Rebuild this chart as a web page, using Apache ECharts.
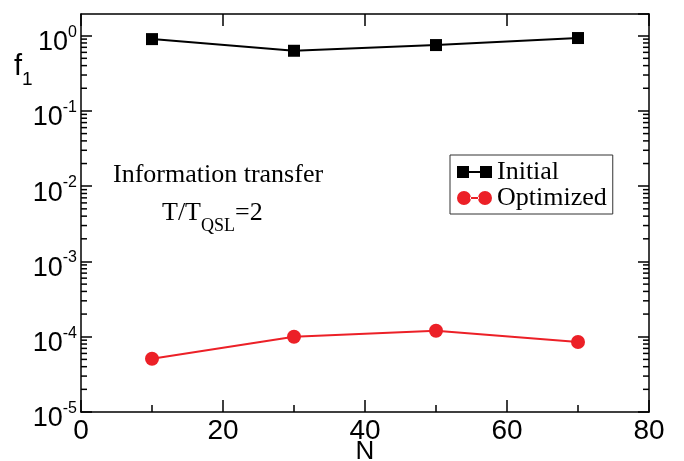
<!DOCTYPE html>
<html><head><meta charset="utf-8">
<script src="https://cdn.jsdelivr.net/npm/echarts@6/dist/echarts.min.js"></script>
<style>html,body{margin:0;padding:0;background:#fff}#c{width:684px;height:461px}</style>
</head><body><div id="c"></div>
<script>
// ---- data ----
const N = [10, 30, 50, 70];
const initial = [0.90, 0.63, 0.75, 0.93];
const optimized = [5.1e-5, 1.0e-4, 1.2e-4, 8.5e-5];
const xTicks = [0, 20, 40, 60, 80];
const yDecades = [1e-5, 1e-4, 1e-3, 1e-2, 1e-1, 1];
const minorMultipliers = [2, 3, 4, 5, 6, 7, 8, 9];
const seriesNames = ['Initial', 'Optimized'];

const X_MIN = 0, X_MAX = 80, Y_MIN = 1e-5, Y_MAX = 1.94;
const RED = '#ec2027';
const SANS = 'Liberation Sans, Arial, sans-serif';
const SERIF = 'Liberation Serif, Times New Roman, serif';

const minorVals = [];
yDecades.forEach(d => minorMultipliers.forEach(m => { const v = d * m; if (v < Y_MAX) minorVals.push([X_MIN, v]); }));

const axisLineStyle = { color: '#000', width: 1.5 };
const sqIcon = 'path://M0,0H12V12H0Z M12,5H23V7H12Z M23,0H35V12H23Z';
const ciIcon = 'path://M0,7A7,7,0,1,0,14,7A7,7,0,1,0,0,7Z M13,6H22V8H13Z M21,7A7,7,0,1,0,35,7A7,7,0,1,0,21,7Z';

const chart = echarts.init(document.getElementById('c'), null, { renderer: 'canvas' });
chart.setOption({
  animation: false,
  backgroundColor: '#fff',
  grid: { left: 81, right: 35, top: 14, bottom: 49, containLabel: false, outerBoundsMode: 'none' },
  xAxis: [{
    type: 'value', min: X_MIN, max: X_MAX, interval: 20, position: 'bottom',
    axisLine: { show: true, onZero: false, lineStyle: axisLineStyle },
    axisTick: { show: true, inside: true, length: 12, lineStyle: axisLineStyle },
    minorTick: { show: true, splitNumber: 2, length: 7, lineStyle: axisLineStyle },
    splitLine: { show: false },
    axisLabel: { fontSize: 28, color: '#000', fontFamily: SANS, margin: 5,
      formatter: v => xTicks.includes(v) ? String(v) : '' },
    name: 'N', nameLocation: 'middle', nameGap: 27, nameMoveOverlap: false,
    nameTextStyle: { fontSize: 26, color: '#000', fontFamily: SANS }
  }, {
    type: 'value', min: X_MIN, max: X_MAX, interval: 20, position: 'top',
    axisLine: { show: true, onZero: false, lineStyle: axisLineStyle },
    axisTick: { show: true, inside: true, length: 12, lineStyle: axisLineStyle },
    axisLabel: { show: false }, splitLine: { show: false }
  }],
  yAxis: [{
    type: 'log', logBase: 10, min: Y_MIN, max: Y_MAX, position: 'left',
    axisLine: { show: true, onZero: false, lineStyle: axisLineStyle },
    axisTick: { show: true, inside: true, length: 11, lineStyle: axisLineStyle },
    splitLine: { show: false },
    axisLabel: {
      showMaxLabel: false, margin: 4, padding: [14, 0, 0, 0],
      formatter: v => '{b|10}{s|' + Math.round(Math.log10(v)) + '}',
      rich: {
        b: { fontSize: 27, lineHeight: 27, fontFamily: SANS, color: '#000', verticalAlign: 'bottom' },
        s: { fontSize: 16, lineHeight: 16, fontFamily: SANS, color: '#000', verticalAlign: 'bottom', padding: [0, 0, 16, 0] }
      }
    }
  }, {
    type: 'log', logBase: 10, min: Y_MIN, max: Y_MAX, position: 'right',
    axisLine: { show: true, onZero: false, lineStyle: axisLineStyle },
    axisTick: { show: true, inside: true, length: 11, lineStyle: axisLineStyle },
    axisLabel: { show: false }, splitLine: { show: false }
  }],
  legend: {
    orient: 'vertical', left: 450, top: 155,
    data: [{ name: seriesNames[0], icon: sqIcon }, { name: seriesNames[1], icon: ciIcon }],
    itemWidth: 35, itemHeight: 14, itemGap: 0,
    padding: [4, 6, 3, 7], borderColor: '#333', borderWidth: 1,
    textStyle: { fontFamily: SERIF, fontSize: 26, color: '#000' },
    selectedMode: false
  },
  graphic: [
    { type: 'text', x: 113, y: 175, silent: true,
      style: { text: 'Information transfer', font: '26px ' + SERIF, fill: '#000', align: 'left', verticalAlign: 'middle' } },
    { type: 'text', x: 162, y: 200, silent: true,
      style: { text: '{a|T/T}{b|QSL}{a|=2}', align: 'left', verticalAlign: 'top',
        rich: {
          a: { fontSize: 26, lineHeight: 26, fontFamily: SERIF, fill: '#000', verticalAlign: 'top' },
          b: { fontSize: 18, lineHeight: 18, fontFamily: SERIF, fill: '#000', verticalAlign: 'top', padding: [17, 0, 0, 0] }
        } } },
    { type: 'text', x: 14, y: 52, silent: true,
      style: { text: '{f|f}{s|1}', align: 'left', verticalAlign: 'top',
        rich: {
          f: { fontSize: 29, lineHeight: 29, fontFamily: SANS, fill: '#000', verticalAlign: 'top' },
          s: { fontSize: 19, lineHeight: 19, fontFamily: SANS, fill: '#000', verticalAlign: 'top', padding: [18, 0, 0, 0] }
        } } }
  ],
  series: [
    { name: seriesNames[0], type: 'line', xAxisIndex: 0, yAxisIndex: 0,
      data: N.map((n, i) => [n, initial[i]]),
      symbol: 'rect', symbolSize: 12, itemStyle: { color: '#000' },
      lineStyle: { color: '#000', width: 2 }, z: 4 },
    { name: seriesNames[1], type: 'line', xAxisIndex: 0, yAxisIndex: 0,
      data: N.map((n, i) => [n, optimized[i]]),
      symbol: 'circle', symbolSize: 14, itemStyle: { color: RED },
      lineStyle: { color: RED, width: 2 }, z: 4 },
    { name: '_minorTicks', type: 'custom', xAxisIndex: 0, yAxisIndex: 0, silent: true, z: 3,
      data: minorVals, clip: false,
      renderItem: (params, api) => {
        const v = api.value(1);
        const pL = api.coord([X_MIN, v]);
        const pR = api.coord([X_MAX, v]);
        const st = { stroke: '#000', lineWidth: 1.5 };
        return { type: 'group', children: [
          { type: 'line', shape: { x1: pL[0], y1: pL[1], x2: pL[0] + 6, y2: pL[1] }, style: st },
          { type: 'line', shape: { x1: pR[0] - 6, y1: pR[1], x2: pR[0], y2: pR[1] }, style: st }
        ] };
      } }
  ]
});
</script>
</body></html>
